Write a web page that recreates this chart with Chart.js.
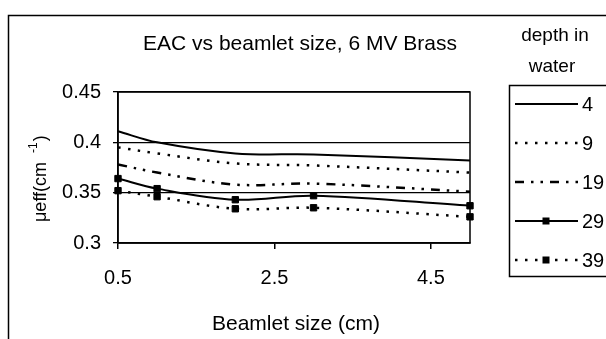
<!DOCTYPE html>
<html><head><meta charset="utf-8">
<script src="https://cdn.jsdelivr.net/npm/chart.js@4/dist/chart.umd.min.js"></script>
<style>html,body{margin:0;padding:0;background:#fff;}#wrap{width:606px;height:339px;}</style>
</head><body><div id="wrap"><canvas id="c" width="606" height="339"></canvas></div>
<script>
const beamletSizes = [0.5, 1, 2, 3, 5];
const depth4  = [0.411, 0.400, 0.389, 0.388, 0.382];
const depth9  = [0.395, 0.389, 0.379, 0.377, 0.370];
const depth19 = [0.378, 0.370, 0.358, 0.359, 0.351];
const depth29 = [0.364, 0.354, 0.343, 0.347, 0.337];
const depth39 = [0.352, 0.346, 0.334, 0.335, 0.326];
const seriesLabels = ['4', '9', '19', '29', '39'];
const xTicks = [0.5, 2.5, 4.5];
const yTicks = [0.3, 0.35, 0.4, 0.45];
const titleText = 'EAC vs beamlet size, 6 MV Brass';
const xTitle = 'Beamlet size (cm)';
const yTitleMain = 'μeff(cm';
const yTitleSup = '-1';
const yTitleEnd = ')';
const legendTitle = ['depth in', 'water'];

const FONT = "'Liberation Sans', Arial, sans-serif";
const pts = arr => beamletSizes.map((x, i) => ({x: x, y: arr[i]}));

const base = {borderColor: '#000', backgroundColor: '#000', tension: 0.35, pointRadius: 0, clip: 12, fill: false};
const datasets = [
  Object.assign({}, base, {label: seriesLabels[0], data: pts(depth4), borderWidth: 2}),
  Object.assign({}, base, {label: seriesLabels[1], data: pts(depth9), borderWidth: 2.5, borderDash: [2.5, 7.5]}),
  Object.assign({}, base, {label: seriesLabels[2], data: pts(depth19), borderWidth: 2.5, borderDash: [9, 7, 2.5, 7, 2.5, 7]}),
  Object.assign({}, base, {label: seriesLabels[3], data: pts(depth29), borderWidth: 2, pointRadius: 4.5, pointStyle: 'rect', pointBorderWidth: 1, pointBackgroundColor: '#000', pointBorderColor: '#000'}),
  Object.assign({}, base, {label: seriesLabels[4], data: pts(depth39), borderWidth: 2.5, borderDash: [2.5, 7.5], pointRadius: 4.5, pointStyle: 'rect', pointBorderWidth: 1, pointBackgroundColor: '#000', pointBorderColor: '#000'})
];

const deco = {
  id: 'deco',
  beforeDraw(chart) {
    const ctx = chart.ctx;
    ctx.save();
    ctx.fillStyle = '#fff';
    ctx.fillRect(0, 0, chart.width, chart.height);
    ctx.strokeStyle = '#000';
    ctx.lineWidth = 1.5;
    ctx.beginPath();
    ctx.moveTo(8.5, 345); ctx.lineTo(8.5, 15.5); ctx.lineTo(610, 15.5);
    ctx.stroke();
    ctx.restore();
  },
  afterDraw(chart) {
    const ctx = chart.ctx;
    const a = chart.chartArea;
    ctx.save();
    ctx.strokeStyle = '#000';
    ctx.lineWidth = 1.5;
    ctx.setLineDash([]);
    ctx.strokeRect(a.left, a.top, a.right - a.left, a.bottom - a.top);
    ctx.fillStyle = '#000';
    // title
    ctx.font = '21px ' + FONT;
    ctx.textAlign = 'center';
    ctx.textBaseline = 'alphabetic';
    ctx.fillText(titleText, 300, 50);
    // x title
    ctx.fillText(xTitle, 296, 330);
    // y title rotated
    ctx.save();
    ctx.translate(46, 222);
    ctx.rotate(-Math.PI / 2);
    ctx.textAlign = 'left';
    ctx.font = '18px ' + FONT;
    ctx.fillText(yTitleMain, 0, 0);
    let w = ctx.measureText(yTitleMain + ' ').width;
    ctx.font = '12px ' + FONT;
    ctx.fillText(yTitleSup, w + 4, -9);
    let w2 = ctx.measureText(yTitleSup).width;
    ctx.font = '18px ' + FONT;
    ctx.fillText(yTitleEnd, w + 4 + w2 + 1, 0);
    ctx.restore();
    // legend title
    ctx.font = '19px ' + FONT;
    ctx.textAlign = 'center';
    ctx.fillText(legendTitle[0], 555, 41);
    ctx.fillText(legendTitle[1], 552, 72);
    // legend box
    ctx.lineWidth = 1.5;
    ctx.strokeRect(509.5, 85.5, 110, 191);
    const x0 = 515, x1 = 578;
    chart.data.datasets.forEach((ds, i) => {
      const y = 104 + i * 39;
      ctx.save();
      ctx.strokeStyle = '#000';
      ctx.lineWidth = ds.borderWidth;
      ctx.setLineDash(ds.borderDash || []);
      ctx.beginPath();
      ctx.moveTo(x0, y); ctx.lineTo(x1, y);
      ctx.stroke();
      if (ds.pointRadius > 0) {
        ctx.setLineDash([]);
        ctx.fillRect(546 - 3.5, y - 3.5, 7, 7);
      }
      ctx.restore();
      ctx.font = '20px ' + FONT;
      ctx.textAlign = 'left';
      ctx.textBaseline = 'middle';
      ctx.fillText(ds.label, 582, y + 1);
      ctx.textBaseline = 'alphabetic';
    });
    ctx.restore();
  }
};

new Chart(document.getElementById('c'), {
  type: 'line',
  data: {datasets: datasets},
  options: {
    responsive: false,
    animation: false,
    devicePixelRatio: 1,
    layout: {padding: {left: 0, right: 136, top: 92, bottom: 0}},
    plugins: {legend: {display: false}, title: {display: false}, tooltip: {enabled: false}},
    scales: {
      x: {
        type: 'linear', min: 0.5, max: 5,
        afterBuildTicks: s => { s.ticks = xTicks.map(v => ({value: v})); },
        afterFit: s => { s.height = 96; },
        ticks: {font: {size: 20, family: FONT}, color: '#000', padding: 17, maxRotation: 0, callback: v => String(v)},
        grid: {drawOnChartArea: false, drawTicks: true, tickLength: 6, color: '#000', lineWidth: 1.5},
        border: {color: '#000', width: 1.5}
      },
      y: {
        min: 0.3, max: 0.45,
        afterBuildTicks: s => { s.ticks = yTicks.map(v => ({value: v})); },
        afterFit: s => { s.width = 118; },
        ticks: {font: {size: 20, family: FONT}, color: '#000', padding: 12, callback: v => String(v)},
        grid: {drawOnChartArea: true, drawTicks: true, tickLength: 5, color: '#000', lineWidth: 1.3},
        border: {color: '#000', width: 1.5}
      }
    }
  },
  plugins: [deco]
});
</script></body></html>
